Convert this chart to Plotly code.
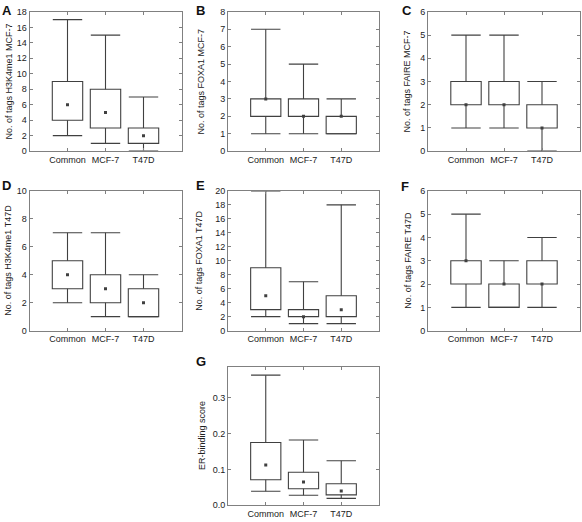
import plotly.graph_objects as go

W, H = 582, 522

categories = ["Common", "MCF-7", "T47D"]

# Panel A: No. of tags H3K4me1 MCF-7
a_low = [2, 1, 0]
a_q1 = [4, 3, 1]
a_med = [6, 5, 2]
a_q3 = [9, 8, 3]
a_high = [17, 15, 7]

# Panel B: No. of tags FOXA1 MCF-7
b_low = [1, 1, 1]
b_q1 = [2, 2, 1]
b_med = [3, 2, 2]
b_q3 = [3, 3, 2]
b_high = [7, 5, 3]

# Panel C: No. of tags FAIRE MCF-7
c_low = [1, 1, 0]
c_q1 = [2, 2, 1]
c_med = [2, 2, 1]
c_q3 = [3, 3, 2]
c_high = [5, 5, 3]

# Panel D: No. of tags H3K4me1 T47D
d_low = [2, 1, 1]
d_q1 = [3, 2, 1]
d_med = [4, 3, 2]
d_q3 = [5, 4, 3]
d_high = [7, 7, 4]

# Panel E: No. of tags FOXA1 T47D
e_low = [2, 1, 1]
e_q1 = [3, 2, 2]
e_med = [5, 2, 3]
e_q3 = [9, 3, 5]
e_high = [20, 7, 18]

# Panel F: No. of tags FAIRE T47D
f_low = [1, 1, 1]
f_q1 = [2, 1, 2]
f_med = [3, 2, 2]
f_q3 = [3, 2, 3]
f_high = [5, 3, 4]

# Panel G: ER-binding score
g_low = [0.039, 0.028, 0.019]
g_q1 = [0.071, 0.046, 0.029]
g_med = [0.112, 0.065, 0.040]
g_q3 = [0.175, 0.092, 0.060]
g_high = [0.363, 0.182, 0.124]

panels = [
    # letter, title, low, q1, med, q3, high, ymax, dtick, tickformat,
    # plot box px (l, r, t, b), letter centre (x, y) px, title x px
    ("A", "No. of tags H3K4me1 MCF-7", a_low, a_q1, a_med, a_q3, a_high, 18, 2, "d",
     (29.5, 181.5, 7, 149), (0, 6), 9),
    ("B", "No. of tags FOXA1 MCF-7", b_low, b_q1, b_med, b_q3, b_high, 8, 1, "d",
     (228, 379, 7, 149), (194, 6), 201),
    ("C", "No. of tags FAIRE MCF-7", c_low, c_q1, c_med, c_q3, c_high, 6, 1, "d",
     (428, 580, 7, 149), (400, 6), 407),
    ("D", "No. of tags H3K4me1 T47D", d_low, d_q1, d_med, d_q3, d_high, 10, 2, "d",
     (29.5, 181.5, 189.5, 332), (0, 184), 8),
    ("E", "No. of tags FOXA1 T47D", e_low, e_q1, e_med, e_q3, e_high, 20, 2, "d",
     (228, 379, 189.5, 332), (194, 184), 199),
    ("F", "No. of tags FAIRE T47D", f_low, f_q1, f_med, f_q3, f_high, 6, 1, "d",
     (428, 580, 189.5, 332), (399, 185), 408),
    ("G", "ER-binding score", g_low, g_q1, g_med, g_q3, g_high, 0.386, 0.1, ".1f",
     (228, 379, 369, 510), (194, 363), 202),
]

FONT = "Liberation Sans, Arial, sans-serif"
LINE = "#404040"
FRAME = "#808080"
LW = 1.1

fig = go.Figure()
layout = dict(
    width=W, height=H,
    margin=dict(l=0, r=0, t=0, b=0),
    paper_bgcolor="white", plot_bgcolor="white",
    showlegend=False,
    font=dict(family=FONT, size=9, color="#222"),
    annotations=[],
)

for i, (letter, title, low, q1, med, q3, high, ymax, dtick, tfmt,
        (l, r, t, b), (lx, ly), tx) in enumerate(panels):
    n = "" if i == 0 else str(i + 1)
    xa, ya = "x" + n, "y" + n

    # box body (q1..q3)
    fig.add_trace(go.Bar(
        x=categories, y=[hi - lo for lo, hi in zip(q1, q3)], base=q1,
        width=0.8, marker=dict(color="white", line=dict(color=LINE, width=LW)),
        xaxis=xa, yaxis=ya, hoverinfo="skip",
    ))
    # whisker stems
    wx, wy = [], []
    for c, lo, a, bq, hi in zip(categories, low, q1, q3, high):
        wx += [c, c, None, c, c, None]
        wy += [bq, hi, None, lo, a, None]
    fig.add_trace(go.Scatter(
        x=wx, y=wy, mode="lines", line=dict(color=LINE, width=LW),
        xaxis=xa, yaxis=ya, hoverinfo="skip",
    ))
    # whisker caps
    fig.add_trace(go.Scatter(
        x=categories + categories, y=low + high, mode="markers",
        marker=dict(symbol="line-ew", size=21, line=dict(color=LINE, width=LW)),
        xaxis=xa, yaxis=ya, hoverinfo="skip",
    ))
    # median points
    fig.add_trace(go.Scatter(
        x=categories, y=med, mode="markers",
        marker=dict(symbol="square", size=3, color=LINE),
        xaxis=xa, yaxis=ya, hoverinfo="skip",
    ))
    layout["xaxis" + n] = dict(
        domain=[l / W, r / W], anchor=ya, type="category",
        categoryorder="array", categoryarray=categories,
        range=[-1, 3], showline=True, linecolor=FRAME, linewidth=1,
        mirror="ticks", ticks="inside", ticklen=3, tickcolor=FRAME,
        showgrid=False, zeroline=False,
        tickfont=dict(family=FONT, size=9, color="#222"),
    )
    layout["yaxis" + n] = dict(
        domain=[1 - b / H, 1 - t / H], anchor=xa,
        range=[0, ymax], dtick=dtick, tick0=0, tickformat=tfmt,
        showline=True, linecolor=FRAME, linewidth=1,
        mirror="ticks", ticks="inside", ticklen=3, tickcolor=FRAME,
        showgrid=False, zeroline=False,
        tickfont=dict(family=FONT, size=9, color="#222"),
    )
    # y-axis title
    layout["annotations"].append(dict(
        text=title, xref="paper", yref="paper",
        x=tx / W, y=1 - (t + b) / 2 / H, textangle=-90,
        xanchor="center", yanchor="middle", showarrow=False,
        font=dict(family=FONT, size=9, color="#222"),
    ))
    # panel letter
    layout["annotations"].append(dict(
        text="<b>%s</b>" % letter, xref="paper", yref="paper",
        x=lx / W, y=1 - ly / H,
        xanchor="left", yanchor="middle", showarrow=False,
        font=dict(family=FONT, size=13, color="#111"),
    ))

fig.update_layout(**layout)
fig.write_html("out.html", config={"displayModeBar": False},
               post_script="document.body.style.margin='0px';")
